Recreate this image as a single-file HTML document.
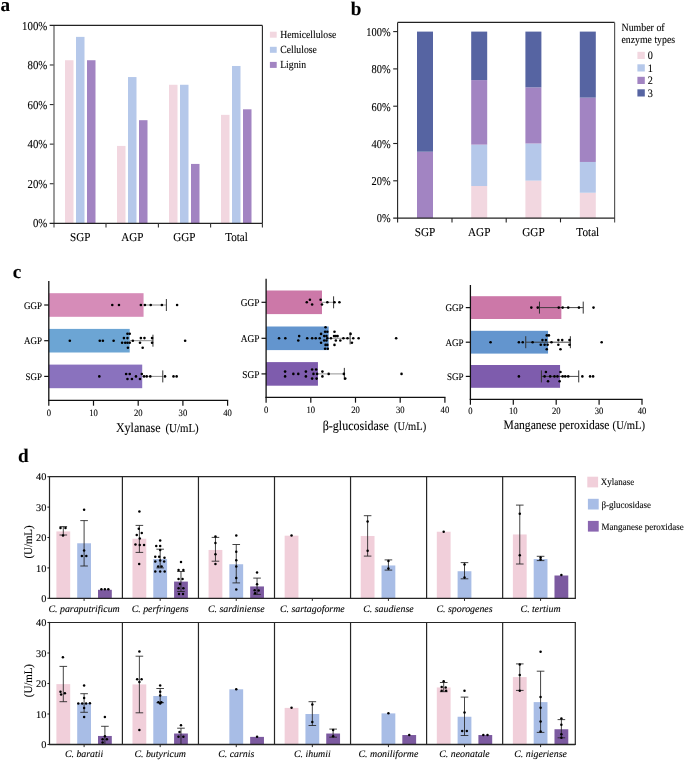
<!DOCTYPE html>
<html><head><meta charset="utf-8"><title>Figure</title>
<style>
html,body{margin:0;padding:0;background:#fff;}
body{width:685px;height:761px;overflow:hidden;}
svg{display:block;}
svg text{font-family:"Liberation Serif",serif;text-rendering:geometricPrecision;stroke:#000;stroke-width:0.18px;stroke-opacity:0.55;}
svg{will-change:transform;}
</style></head>
<body>
<svg width="685" height="761" viewBox="0 0 685 761">
<rect x="0" y="0" width="685" height="761" fill="#fff"/>
<text x="0.6" y="10.6" font-size="19.2" font-weight="bold" fill="#000">a</text>
<text x="350.7" y="14.8" font-size="19.2" font-weight="bold" fill="#000">b</text>
<text x="12.7" y="278.2" font-size="19.2" font-weight="bold" fill="#000">c</text>
<text x="18" y="461.7" font-size="19.2" font-weight="bold" fill="#000">d</text>
<rect x="65" y="60.23" width="8.5" height="163.07" fill="#F2D7E0"/>
<rect x="76" y="36.88" width="8.5" height="186.42" fill="#B5C8EA"/>
<rect x="87" y="60.23" width="8.5" height="163.07" fill="#A284C2"/>
<rect x="117" y="145.92" width="8.5" height="77.38" fill="#F2D7E0"/>
<rect x="128" y="77.05" width="8.5" height="146.25" fill="#B5C8EA"/>
<rect x="139" y="120.19" width="8.5" height="103.11" fill="#A284C2"/>
<rect x="169" y="84.77" width="8.5" height="138.53" fill="#F2D7E0"/>
<rect x="180" y="84.77" width="8.5" height="138.53" fill="#B5C8EA"/>
<rect x="191" y="163.93" width="8.5" height="59.37" fill="#A284C2"/>
<rect x="221" y="114.85" width="8.5" height="108.45" fill="#F2D7E0"/>
<rect x="232" y="65.97" width="8.5" height="157.33" fill="#B5C8EA"/>
<rect x="243" y="109.31" width="8.5" height="113.99" fill="#A284C2"/>
<line x1="54" y1="25.4" x2="54" y2="227.6" stroke="#7a7a7a" stroke-width="1.5"/>
<line x1="49.6" y1="25.4" x2="262.4" y2="25.4" stroke="#222" stroke-width="1.1"/>
<line x1="262.4" y1="25.4" x2="262.4" y2="223.3" stroke="#222" stroke-width="1.1"/>
<line x1="49.6" y1="223.3" x2="262.4" y2="223.3" stroke="#222" stroke-width="1.2"/>
<line x1="49.8" y1="183.72" x2="53.6" y2="183.72" stroke="#333" stroke-width="1.1"/>
<line x1="49.8" y1="144.14" x2="53.6" y2="144.14" stroke="#333" stroke-width="1.1"/>
<line x1="49.8" y1="104.56" x2="53.6" y2="104.56" stroke="#333" stroke-width="1.1"/>
<line x1="49.8" y1="64.98" x2="53.6" y2="64.98" stroke="#333" stroke-width="1.1"/>
<line x1="106" y1="223.3" x2="106" y2="227.6" stroke="#333" stroke-width="1.1"/>
<line x1="158.4" y1="223.3" x2="158.4" y2="227.6" stroke="#333" stroke-width="1.1"/>
<line x1="210.6" y1="223.3" x2="210.6" y2="227.6" stroke="#333" stroke-width="1.1"/>
<line x1="262.4" y1="223.3" x2="262.4" y2="227.6" stroke="#333" stroke-width="1.1"/>
<text transform="translate(47.3,227.4) scale(0.8929,1)" font-size="12.1" text-anchor="end" fill="#000">0%</text>
<text transform="translate(47.3,187.82) scale(0.8929,1)" font-size="12.1" text-anchor="end" fill="#000">20%</text>
<text transform="translate(47.3,148.24) scale(0.8929,1)" font-size="12.1" text-anchor="end" fill="#000">40%</text>
<text transform="translate(47.3,108.66) scale(0.8929,1)" font-size="12.1" text-anchor="end" fill="#000">60%</text>
<text transform="translate(47.3,69.08) scale(0.8929,1)" font-size="12.1" text-anchor="end" fill="#000">80%</text>
<text transform="translate(47.3,29.5) scale(0.8929,1)" font-size="12.1" text-anchor="end" fill="#000">100%</text>
<text transform="translate(80.3,240.6) scale(0.9174,1)" font-size="12.1" text-anchor="middle" fill="#000">SGP</text>
<text transform="translate(132.3,240.6) scale(0.9174,1)" font-size="12.1" text-anchor="middle" fill="#000">AGP</text>
<text transform="translate(184.4,240.6) scale(0.9174,1)" font-size="12.1" text-anchor="middle" fill="#000">GGP</text>
<text transform="translate(236.5,240.6) scale(0.9174,1)" font-size="12.1" text-anchor="middle" fill="#000">Total</text>
<rect x="269.9" y="31.7" width="6.8" height="6" fill="#F2D7E0"/>
<text transform="translate(280.2,37.8) scale(0.8929,1)" font-size="10.86" fill="#000">Hemicellulose</text>
<rect x="269.9" y="46.8" width="6.8" height="6" fill="#B5C8EA"/>
<text transform="translate(280.2,52.9) scale(0.8929,1)" font-size="10.86" fill="#000">Cellulose</text>
<rect x="269.9" y="61.9" width="6.8" height="6" fill="#A284C2"/>
<text transform="translate(280.2,68) scale(0.8929,1)" font-size="10.86" fill="#000">Lignin</text>
<rect x="417" y="151.71" width="16" height="66.39" fill="#A284C2"/>
<rect x="417" y="31.6" width="16" height="120.11" fill="#5664A2"/>
<rect x="471.2" y="186.02" width="16" height="32.08" fill="#F2D7E0"/>
<rect x="471.2" y="144.62" width="16" height="41.4" fill="#B5C8EA"/>
<rect x="471.2" y="80.09" width="16" height="64.53" fill="#A284C2"/>
<rect x="471.2" y="31.6" width="16" height="48.49" fill="#5664A2"/>
<rect x="525.4" y="180.61" width="16" height="37.49" fill="#F2D7E0"/>
<rect x="525.4" y="143.5" width="16" height="37.11" fill="#B5C8EA"/>
<rect x="525.4" y="87.36" width="16" height="56.14" fill="#A284C2"/>
<rect x="525.4" y="31.6" width="16" height="55.76" fill="#5664A2"/>
<rect x="579.8" y="192.74" width="16" height="25.36" fill="#F2D7E0"/>
<rect x="579.8" y="161.96" width="16" height="30.77" fill="#B5C8EA"/>
<rect x="579.8" y="97.62" width="16" height="64.34" fill="#A284C2"/>
<rect x="579.8" y="31.6" width="16" height="66.02" fill="#5664A2"/>
<line x1="397.6" y1="22.4" x2="397.6" y2="222.4" stroke="#222" stroke-width="1.1"/>
<line x1="397.6" y1="22.4" x2="614.6" y2="22.4" stroke="#222" stroke-width="1.1"/>
<line x1="614.6" y1="22.4" x2="614.6" y2="222.6" stroke="#5a5a5a" stroke-width="1.2"/>
<line x1="393.2" y1="218.1" x2="614.6" y2="218.1" stroke="#222" stroke-width="1.2"/>
<line x1="393.2" y1="180.8" x2="397.6" y2="180.8" stroke="#222" stroke-width="1.1"/>
<line x1="393.2" y1="143.5" x2="397.6" y2="143.5" stroke="#222" stroke-width="1.1"/>
<line x1="393.2" y1="106.2" x2="397.6" y2="106.2" stroke="#222" stroke-width="1.1"/>
<line x1="393.2" y1="68.9" x2="397.6" y2="68.9" stroke="#222" stroke-width="1.1"/>
<line x1="393.2" y1="31.6" x2="397.6" y2="31.6" stroke="#222" stroke-width="1.1"/>
<line x1="452" y1="218.1" x2="452" y2="222.4" stroke="#222" stroke-width="1.1"/>
<line x1="506.2" y1="218.1" x2="506.2" y2="222.4" stroke="#222" stroke-width="1.1"/>
<line x1="560.5" y1="218.1" x2="560.5" y2="222.4" stroke="#222" stroke-width="1.1"/>
<text transform="translate(390.6,222.4) scale(0.8696,1)" font-size="11.96" text-anchor="end" fill="#000">0%</text>
<text transform="translate(390.6,185.1) scale(0.8696,1)" font-size="11.96" text-anchor="end" fill="#000">20%</text>
<text transform="translate(390.6,147.8) scale(0.8696,1)" font-size="11.96" text-anchor="end" fill="#000">40%</text>
<text transform="translate(390.6,110.5) scale(0.8696,1)" font-size="11.96" text-anchor="end" fill="#000">60%</text>
<text transform="translate(390.6,73.2) scale(0.8696,1)" font-size="11.96" text-anchor="end" fill="#000">80%</text>
<text transform="translate(390.6,35.9) scale(0.8696,1)" font-size="11.96" text-anchor="end" fill="#000">100%</text>
<text transform="translate(425,236) scale(0.9259,1)" font-size="12.1" text-anchor="middle" fill="#000">SGP</text>
<text transform="translate(479.2,236) scale(0.9259,1)" font-size="12.1" text-anchor="middle" fill="#000">AGP</text>
<text transform="translate(533.4,236) scale(0.9259,1)" font-size="12.1" text-anchor="middle" fill="#000">GGP</text>
<text transform="translate(587.8,236) scale(0.9259,1)" font-size="12.1" text-anchor="middle" fill="#000">Total</text>
<text transform="translate(621.5,31.3) scale(0.8929,1)" font-size="11.09" fill="#000">Number of</text>
<text transform="translate(621.5,42.8) scale(0.8929,1)" font-size="10.98" fill="#000">enzyme types</text>
<rect x="637.4" y="51.8" width="7.4" height="7.2" fill="#F2D7E0"/>
<text transform="translate(647.8,59.1) scale(0.8929,1)" font-size="11.42" fill="#000">0</text>
<rect x="637.4" y="64.3" width="7.4" height="7.2" fill="#B5C8EA"/>
<text transform="translate(647.8,71.6) scale(0.8929,1)" font-size="11.42" fill="#000">1</text>
<rect x="637.4" y="76.8" width="7.4" height="7.2" fill="#A284C2"/>
<text transform="translate(647.8,84.1) scale(0.8929,1)" font-size="11.42" fill="#000">2</text>
<rect x="637.4" y="89.3" width="7.4" height="7.2" fill="#5664A2"/>
<text transform="translate(647.8,96.6) scale(0.8929,1)" font-size="11.42" fill="#000">3</text>
<rect x="48.8" y="293.2" width="94.76" height="23.6" fill="#D68CB8"/>
<rect x="48.8" y="328.9" width="80.91" height="23.6" fill="#6CA5D4"/>
<rect x="48.8" y="364.6" width="93.42" height="23.6" fill="#8A72BE"/>
<line x1="143.56" y1="305" x2="166.36" y2="305" stroke="#808080" stroke-width="0.9"/>
<line x1="166.36" y1="299" x2="166.36" y2="311" stroke="#333" stroke-width="1"/>
<line x1="129.71" y1="340.7" x2="152.95" y2="340.7" stroke="#808080" stroke-width="0.9"/>
<line x1="152.95" y1="334.7" x2="152.95" y2="346.7" stroke="#333" stroke-width="1"/>
<line x1="142.22" y1="376.4" x2="162.78" y2="376.4" stroke="#808080" stroke-width="0.9"/>
<line x1="162.78" y1="370.4" x2="162.78" y2="382.4" stroke="#333" stroke-width="1"/>
<circle cx="112.27" cy="305" r="1.3" fill="#000"/>
<circle cx="118.98" cy="305" r="1.3" fill="#000"/>
<circle cx="140.88" cy="305" r="1.3" fill="#000"/>
<circle cx="144.9" cy="305" r="1.3" fill="#000"/>
<circle cx="150.72" cy="305" r="1.3" fill="#000"/>
<circle cx="161.89" cy="305" r="1.3" fill="#000"/>
<circle cx="177.09" cy="305" r="1.3" fill="#000"/>
<circle cx="69.81" cy="340.7" r="1.3" fill="#000"/>
<circle cx="99.76" cy="340.7" r="1.3" fill="#000"/>
<circle cx="102.89" cy="340.7" r="1.3" fill="#000"/>
<circle cx="113.61" cy="340.7" r="1.3" fill="#000"/>
<circle cx="127.47" cy="333.7" r="1.3" fill="#000"/>
<circle cx="129.71" cy="333.7" r="1.3" fill="#000"/>
<circle cx="123.9" cy="338.1" r="1.3" fill="#000"/>
<circle cx="127.47" cy="338.1" r="1.3" fill="#000"/>
<circle cx="122.11" cy="342.8" r="1.3" fill="#000"/>
<circle cx="125.24" cy="342.8" r="1.3" fill="#000"/>
<circle cx="127.47" cy="342.8" r="1.3" fill="#000"/>
<circle cx="129.71" cy="342.8" r="1.3" fill="#000"/>
<circle cx="127.92" cy="347.7" r="1.3" fill="#000"/>
<circle cx="132.84" cy="340.7" r="1.3" fill="#000"/>
<circle cx="140.88" cy="338.1" r="1.3" fill="#000"/>
<circle cx="144.46" cy="338.1" r="1.3" fill="#000"/>
<circle cx="139.99" cy="342.8" r="1.3" fill="#000"/>
<circle cx="142.67" cy="347.7" r="1.3" fill="#000"/>
<circle cx="152.06" cy="338.1" r="1.3" fill="#000"/>
<circle cx="152.06" cy="342.8" r="1.3" fill="#000"/>
<circle cx="185.13" cy="340.7" r="1.3" fill="#000"/>
<circle cx="99.31" cy="376.4" r="1.3" fill="#000"/>
<circle cx="126.13" cy="374" r="1.3" fill="#000"/>
<circle cx="129.71" cy="374" r="1.3" fill="#000"/>
<circle cx="127.47" cy="379" r="1.3" fill="#000"/>
<circle cx="131.94" cy="379" r="1.3" fill="#000"/>
<circle cx="135.96" cy="376.4" r="1.3" fill="#000"/>
<circle cx="139.99" cy="379" r="1.3" fill="#000"/>
<circle cx="141.78" cy="374" r="1.3" fill="#000"/>
<circle cx="144.01" cy="376.4" r="1.3" fill="#000"/>
<circle cx="146.69" cy="376.4" r="1.3" fill="#000"/>
<circle cx="150.27" cy="376.4" r="1.3" fill="#000"/>
<circle cx="165.02" cy="376.4" r="1.3" fill="#000"/>
<circle cx="173.51" cy="376.4" r="1.3" fill="#000"/>
<circle cx="176.64" cy="376.4" r="1.3" fill="#000"/>
<line x1="48.8" y1="281.1" x2="48.8" y2="401" stroke="#111" stroke-width="1.3"/>
<line x1="48.2" y1="400.4" x2="228.2" y2="400.4" stroke="#111" stroke-width="1.3"/>
<line x1="48.8" y1="400.4" x2="48.8" y2="405.7" stroke="#111" stroke-width="1.2"/>
<text transform="translate(48.8,416) scale(0.8929,1)" font-size="9.63" text-anchor="middle" fill="#000">0</text>
<line x1="93.5" y1="400.4" x2="93.5" y2="405.7" stroke="#111" stroke-width="1.2"/>
<text transform="translate(93.5,416) scale(0.8929,1)" font-size="9.63" text-anchor="middle" fill="#000">10</text>
<line x1="138.2" y1="400.4" x2="138.2" y2="405.7" stroke="#111" stroke-width="1.2"/>
<text transform="translate(138.2,416) scale(0.8929,1)" font-size="9.63" text-anchor="middle" fill="#000">20</text>
<line x1="182.9" y1="400.4" x2="182.9" y2="405.7" stroke="#111" stroke-width="1.2"/>
<text transform="translate(182.9,416) scale(0.8929,1)" font-size="9.63" text-anchor="middle" fill="#000">30</text>
<line x1="227.6" y1="400.4" x2="227.6" y2="405.7" stroke="#111" stroke-width="1.2"/>
<text transform="translate(227.6,416) scale(0.8929,1)" font-size="9.63" text-anchor="middle" fill="#000">40</text>
<line x1="44.2" y1="305" x2="48.8" y2="305" stroke="#111" stroke-width="1.2"/>
<text transform="translate(42,308.7) scale(0.8929,1)" font-size="10.08" text-anchor="end" fill="#000">GGP</text>
<line x1="44.2" y1="340.7" x2="48.8" y2="340.7" stroke="#111" stroke-width="1.2"/>
<text transform="translate(42,344.4) scale(0.8929,1)" font-size="10.08" text-anchor="end" fill="#000">AGP</text>
<line x1="44.2" y1="376.4" x2="48.8" y2="376.4" stroke="#111" stroke-width="1.2"/>
<text transform="translate(42,380.1) scale(0.8929,1)" font-size="10.08" text-anchor="end" fill="#000">SGP</text>
<text transform="translate(115.9,431.5) scale(0.8929,1)" font-size="13.44" fill="#000">Xylanase</text>
<text transform="translate(165.5,431.5) scale(0.8929,1)" font-size="12.15" fill="#000">(U/mL)</text>
<rect x="266.1" y="290.5" width="55.88" height="23.6" fill="#CC78A8"/>
<rect x="266.1" y="326.5" width="62.58" height="23.6" fill="#6395CE"/>
<rect x="266.1" y="362.1" width="51.85" height="23.6" fill="#7E5CAD"/>
<line x1="321.98" y1="302.3" x2="333.6" y2="302.3" stroke="#888" stroke-width="0.9"/>
<line x1="333.6" y1="296.3" x2="333.6" y2="308.3" stroke="#333" stroke-width="1"/>
<line x1="328.68" y1="338.3" x2="350.14" y2="338.3" stroke="#888" stroke-width="0.9"/>
<line x1="350.14" y1="332.3" x2="350.14" y2="344.3" stroke="#333" stroke-width="1"/>
<line x1="317.95" y1="373.9" x2="344.33" y2="373.9" stroke="#888" stroke-width="0.9"/>
<line x1="344.33" y1="367.9" x2="344.33" y2="379.9" stroke="#333" stroke-width="1"/>
<circle cx="306.78" cy="302.3" r="1.3" fill="#000"/>
<circle cx="309.91" cy="299.8" r="1.3" fill="#000"/>
<circle cx="312.14" cy="304.5" r="1.3" fill="#000"/>
<circle cx="320.63" cy="299.8" r="1.3" fill="#000"/>
<circle cx="321.98" cy="304.5" r="1.3" fill="#000"/>
<circle cx="327.34" cy="302.3" r="1.3" fill="#000"/>
<circle cx="334.49" cy="302.3" r="1.3" fill="#000"/>
<circle cx="339.41" cy="302.3" r="1.3" fill="#000"/>
<circle cx="279.06" cy="338.3" r="1.3" fill="#000"/>
<circle cx="285.32" cy="338.3" r="1.3" fill="#000"/>
<circle cx="299.18" cy="336.1" r="1.3" fill="#000"/>
<circle cx="298.28" cy="340.5" r="1.3" fill="#000"/>
<circle cx="307.22" cy="338.3" r="1.3" fill="#000"/>
<circle cx="312.14" cy="338.3" r="1.3" fill="#000"/>
<circle cx="315.72" cy="338.3" r="1.3" fill="#000"/>
<circle cx="319.74" cy="338.3" r="1.3" fill="#000"/>
<circle cx="321.08" cy="333.9" r="1.3" fill="#000"/>
<circle cx="321.08" cy="342.7" r="1.3" fill="#000"/>
<circle cx="324.21" cy="336.1" r="1.3" fill="#000"/>
<circle cx="326.45" cy="336.1" r="1.3" fill="#000"/>
<circle cx="324.21" cy="340.5" r="1.3" fill="#000"/>
<circle cx="326.45" cy="340.5" r="1.3" fill="#000"/>
<circle cx="325.55" cy="327.3" r="1.3" fill="#000"/>
<circle cx="325.1" cy="331.7" r="1.3" fill="#000"/>
<circle cx="327.34" cy="331.7" r="1.3" fill="#000"/>
<circle cx="327.34" cy="338.3" r="1.3" fill="#000"/>
<circle cx="325.55" cy="344.9" r="1.3" fill="#000"/>
<circle cx="327.34" cy="344.9" r="1.3" fill="#000"/>
<circle cx="325.1" cy="348.8" r="1.3" fill="#000"/>
<circle cx="327.79" cy="348.8" r="1.3" fill="#000"/>
<circle cx="330.92" cy="338.3" r="1.3" fill="#000"/>
<circle cx="334.49" cy="331.7" r="1.3" fill="#000"/>
<circle cx="334.04" cy="336.1" r="1.3" fill="#000"/>
<circle cx="335.83" cy="336.1" r="1.3" fill="#000"/>
<circle cx="337.62" cy="336.1" r="1.3" fill="#000"/>
<circle cx="335.83" cy="340.5" r="1.3" fill="#000"/>
<circle cx="340.3" cy="340.5" r="1.3" fill="#000"/>
<circle cx="334.49" cy="344.9" r="1.3" fill="#000"/>
<circle cx="343.43" cy="338.3" r="1.3" fill="#000"/>
<circle cx="347.45" cy="338.3" r="1.3" fill="#000"/>
<circle cx="350.58" cy="333.9" r="1.3" fill="#000"/>
<circle cx="351.92" cy="342.7" r="1.3" fill="#000"/>
<circle cx="353.26" cy="338.3" r="1.3" fill="#000"/>
<circle cx="358.63" cy="338.3" r="1.3" fill="#000"/>
<circle cx="396.18" cy="338.3" r="1.3" fill="#000"/>
<circle cx="285.1" cy="371.6" r="1.3" fill="#000"/>
<circle cx="285.1" cy="376.4" r="1.3" fill="#000"/>
<circle cx="293.37" cy="373.9" r="1.3" fill="#000"/>
<circle cx="298.28" cy="373.9" r="1.3" fill="#000"/>
<circle cx="305.88" cy="371.6" r="1.3" fill="#000"/>
<circle cx="305.88" cy="376.4" r="1.3" fill="#000"/>
<circle cx="312.14" cy="369.5" r="1.3" fill="#000"/>
<circle cx="316.16" cy="369.5" r="1.3" fill="#000"/>
<circle cx="313.48" cy="373.9" r="1.3" fill="#000"/>
<circle cx="317.06" cy="373.9" r="1.3" fill="#000"/>
<circle cx="312.14" cy="378.6" r="1.3" fill="#000"/>
<circle cx="316.61" cy="378.6" r="1.3" fill="#000"/>
<circle cx="322.42" cy="371.6" r="1.3" fill="#000"/>
<circle cx="322.42" cy="376.4" r="1.3" fill="#000"/>
<circle cx="328.68" cy="373.9" r="1.3" fill="#000"/>
<circle cx="343.88" cy="373.9" r="1.3" fill="#000"/>
<circle cx="345.22" cy="378.6" r="1.3" fill="#000"/>
<circle cx="401.54" cy="373.9" r="1.3" fill="#000"/>
<line x1="266.1" y1="278.8" x2="266.1" y2="398" stroke="#111" stroke-width="1.3"/>
<line x1="265.5" y1="397.4" x2="445.5" y2="397.4" stroke="#111" stroke-width="1.3"/>
<line x1="266.1" y1="397.4" x2="266.1" y2="402.7" stroke="#111" stroke-width="1.2"/>
<text transform="translate(266.1,413) scale(0.8929,1)" font-size="9.63" text-anchor="middle" fill="#000">0</text>
<line x1="310.8" y1="397.4" x2="310.8" y2="402.7" stroke="#111" stroke-width="1.2"/>
<text transform="translate(310.8,413) scale(0.8929,1)" font-size="9.63" text-anchor="middle" fill="#000">10</text>
<line x1="355.5" y1="397.4" x2="355.5" y2="402.7" stroke="#111" stroke-width="1.2"/>
<text transform="translate(355.5,413) scale(0.8929,1)" font-size="9.63" text-anchor="middle" fill="#000">20</text>
<line x1="400.2" y1="397.4" x2="400.2" y2="402.7" stroke="#111" stroke-width="1.2"/>
<text transform="translate(400.2,413) scale(0.8929,1)" font-size="9.63" text-anchor="middle" fill="#000">30</text>
<line x1="444.9" y1="397.4" x2="444.9" y2="402.7" stroke="#111" stroke-width="1.2"/>
<text transform="translate(444.9,413) scale(0.8929,1)" font-size="9.63" text-anchor="middle" fill="#000">40</text>
<line x1="261.5" y1="302.3" x2="266.1" y2="302.3" stroke="#111" stroke-width="1.2"/>
<text transform="translate(259.4,306) scale(0.8929,1)" font-size="10.47" text-anchor="end" fill="#000">GGP</text>
<line x1="261.5" y1="338.3" x2="266.1" y2="338.3" stroke="#111" stroke-width="1.2"/>
<text transform="translate(259.4,342) scale(0.8929,1)" font-size="10.47" text-anchor="end" fill="#000">AGP</text>
<line x1="261.5" y1="373.9" x2="266.1" y2="373.9" stroke="#111" stroke-width="1.2"/>
<text transform="translate(259.4,377.6) scale(0.8929,1)" font-size="10.47" text-anchor="end" fill="#000">SGP</text>
<text transform="translate(322.7,430.2) scale(0.8929,1)" font-size="13.44" fill="#000">β-glucosidase</text>
<text transform="translate(394.1,430.2) scale(0.8929,1)" font-size="11.76" fill="#000">(U/mL)</text>
<rect x="470.4" y="296.2" width="90.95" height="22.8" fill="#CC78A8"/>
<rect x="470.4" y="330.8" width="77.65" height="22.8" fill="#6395CE"/>
<rect x="470.4" y="365" width="89.66" height="22.8" fill="#7E5CAD"/>
<line x1="539.47" y1="307.6" x2="583.23" y2="307.6" stroke="#333" stroke-width="0.9"/>
<line x1="583.23" y1="301.6" x2="583.23" y2="313.6" stroke="#333" stroke-width="1"/>
<line x1="539.47" y1="301.6" x2="539.47" y2="313.6" stroke="#333" stroke-width="1"/>
<line x1="525.74" y1="342.2" x2="570.36" y2="342.2" stroke="#333" stroke-width="0.9"/>
<line x1="570.36" y1="336.2" x2="570.36" y2="348.2" stroke="#333" stroke-width="1"/>
<line x1="525.74" y1="336.2" x2="525.74" y2="348.2" stroke="#333" stroke-width="1"/>
<line x1="541.4" y1="376.4" x2="578.72" y2="376.4" stroke="#333" stroke-width="0.9"/>
<line x1="578.72" y1="370.4" x2="578.72" y2="382.4" stroke="#333" stroke-width="1"/>
<line x1="541.4" y1="370.4" x2="541.4" y2="382.4" stroke="#333" stroke-width="1"/>
<circle cx="531.32" cy="307.6" r="1.3" fill="#000"/>
<circle cx="537.75" cy="307.6" r="1.3" fill="#000"/>
<circle cx="558.77" cy="307.6" r="1.3" fill="#000"/>
<circle cx="562.63" cy="307.6" r="1.3" fill="#000"/>
<circle cx="568.21" cy="307.6" r="1.3" fill="#000"/>
<circle cx="578.94" cy="307.6" r="1.3" fill="#000"/>
<circle cx="593.52" cy="307.6" r="1.3" fill="#000"/>
<circle cx="490.56" cy="342.2" r="1.3" fill="#000"/>
<circle cx="518.88" cy="342.2" r="1.3" fill="#000"/>
<circle cx="522.74" cy="342.2" r="1.3" fill="#000"/>
<circle cx="532.61" cy="342.2" r="1.3" fill="#000"/>
<circle cx="542.47" cy="340.1" r="1.3" fill="#000"/>
<circle cx="545.9" cy="340.1" r="1.3" fill="#000"/>
<circle cx="546.76" cy="335.4" r="1.3" fill="#000"/>
<circle cx="548.91" cy="335.4" r="1.3" fill="#000"/>
<circle cx="540.76" cy="344.8" r="1.3" fill="#000"/>
<circle cx="544.62" cy="344.8" r="1.3" fill="#000"/>
<circle cx="547.62" cy="344.8" r="1.3" fill="#000"/>
<circle cx="546.76" cy="349.2" r="1.3" fill="#000"/>
<circle cx="551.48" cy="342.2" r="1.3" fill="#000"/>
<circle cx="558.35" cy="340.1" r="1.3" fill="#000"/>
<circle cx="562.21" cy="340.1" r="1.3" fill="#000"/>
<circle cx="558.35" cy="344.8" r="1.3" fill="#000"/>
<circle cx="560.49" cy="349.2" r="1.3" fill="#000"/>
<circle cx="569.5" cy="340.1" r="1.3" fill="#000"/>
<circle cx="569.5" cy="344.8" r="1.3" fill="#000"/>
<circle cx="601.67" cy="342.2" r="1.3" fill="#000"/>
<circle cx="518.88" cy="376.4" r="1.3" fill="#000"/>
<circle cx="545.9" cy="372" r="1.3" fill="#000"/>
<circle cx="544.62" cy="376.4" r="1.3" fill="#000"/>
<circle cx="550.19" cy="376.4" r="1.3" fill="#000"/>
<circle cx="554.48" cy="376.4" r="1.3" fill="#000"/>
<circle cx="557.49" cy="376.4" r="1.3" fill="#000"/>
<circle cx="560.49" cy="372" r="1.3" fill="#000"/>
<circle cx="562.63" cy="376.4" r="1.3" fill="#000"/>
<circle cx="548.05" cy="381.2" r="1.3" fill="#000"/>
<circle cx="559.63" cy="381.2" r="1.3" fill="#000"/>
<circle cx="565.21" cy="376.4" r="1.3" fill="#000"/>
<circle cx="568.21" cy="376.4" r="1.3" fill="#000"/>
<circle cx="582.37" cy="376.4" r="1.3" fill="#000"/>
<circle cx="590.09" cy="376.4" r="1.3" fill="#000"/>
<circle cx="593.09" cy="376.4" r="1.3" fill="#000"/>
<line x1="470.4" y1="285" x2="470.4" y2="400" stroke="#111" stroke-width="1.3"/>
<line x1="469.8" y1="399.4" x2="642.6" y2="399.4" stroke="#111" stroke-width="1.3"/>
<line x1="470.4" y1="399.4" x2="470.4" y2="404.7" stroke="#111" stroke-width="1.2"/>
<text transform="translate(470.4,414.4) scale(0.8929,1)" font-size="9.63" text-anchor="middle" fill="#000">0</text>
<line x1="513.3" y1="399.4" x2="513.3" y2="404.7" stroke="#111" stroke-width="1.2"/>
<text transform="translate(513.3,414.4) scale(0.8929,1)" font-size="9.63" text-anchor="middle" fill="#000">10</text>
<line x1="556.2" y1="399.4" x2="556.2" y2="404.7" stroke="#111" stroke-width="1.2"/>
<text transform="translate(556.2,414.4) scale(0.8929,1)" font-size="9.63" text-anchor="middle" fill="#000">20</text>
<line x1="599.1" y1="399.4" x2="599.1" y2="404.7" stroke="#111" stroke-width="1.2"/>
<text transform="translate(599.1,414.4) scale(0.8929,1)" font-size="9.63" text-anchor="middle" fill="#000">30</text>
<line x1="642" y1="399.4" x2="642" y2="404.7" stroke="#111" stroke-width="1.2"/>
<text transform="translate(642,414.4) scale(0.8929,1)" font-size="9.63" text-anchor="middle" fill="#000">40</text>
<line x1="465.8" y1="307.6" x2="470.4" y2="307.6" stroke="#111" stroke-width="1.2"/>
<text transform="translate(463.6,311.3) scale(0.8929,1)" font-size="10.14" text-anchor="end" fill="#000">GGP</text>
<line x1="465.8" y1="342.2" x2="470.4" y2="342.2" stroke="#111" stroke-width="1.2"/>
<text transform="translate(463.6,345.9) scale(0.8929,1)" font-size="10.14" text-anchor="end" fill="#000">AGP</text>
<line x1="465.8" y1="376.4" x2="470.4" y2="376.4" stroke="#111" stroke-width="1.2"/>
<text transform="translate(463.6,380.1) scale(0.8929,1)" font-size="10.14" text-anchor="end" fill="#000">SGP</text>
<text transform="translate(503.6,428.6) scale(0.8929,1)" font-size="12.99" fill="#000">Manganese peroxidase</text>
<text transform="translate(612.6,428.6) scale(0.8929,1)" font-size="11.87" fill="#000">(U/mL)</text>
<rect x="56.4" y="531.42" width="13.8" height="66.88" fill="#F1CFDA"/>
<line x1="63.3" y1="526.6" x2="63.3" y2="535" stroke="#222" stroke-width="0.85"/>
<line x1="59.5" y1="526.6" x2="67.1" y2="526.6" stroke="#222" stroke-width="0.85"/>
<line x1="59.5" y1="535" x2="67.1" y2="535" stroke="#222" stroke-width="0.85"/>
<circle cx="60.5" cy="528.1" r="1.25" fill="#000"/>
<circle cx="65.5" cy="528.1" r="1.25" fill="#000"/>
<circle cx="63" cy="535.6" r="1.25" fill="#000"/>
<rect x="77.2" y="543.28" width="13.8" height="55.02" fill="#A8BDE6"/>
<line x1="84.1" y1="520.6" x2="84.1" y2="566" stroke="#222" stroke-width="0.85"/>
<line x1="80.3" y1="520.6" x2="87.9" y2="520.6" stroke="#222" stroke-width="0.85"/>
<line x1="80.3" y1="566" x2="87.9" y2="566" stroke="#222" stroke-width="0.85"/>
<circle cx="84.1" cy="509.8" r="1.25" fill="#000"/>
<circle cx="84.1" cy="550.4" r="1.25" fill="#000"/>
<circle cx="81.9" cy="556.1" r="1.25" fill="#000"/>
<circle cx="86.3" cy="556.1" r="1.25" fill="#000"/>
<rect x="98" y="589.79" width="13.8" height="8.51" fill="#7C5AA0"/>
<circle cx="101.4" cy="589.2" r="1.25" fill="#000"/>
<circle cx="104.9" cy="589.2" r="1.25" fill="#000"/>
<circle cx="108.3" cy="589.2" r="1.25" fill="#000"/>
<text x="84.1" y="612.1" font-size="9.9" text-anchor="middle" font-style="italic" fill="#000">C. paraputrificum</text>
<line x1="84.1" y1="598.3" x2="84.1" y2="600.9" stroke="#262626" stroke-width="1"/>
<rect x="132.48" y="538.72" width="13.8" height="59.58" fill="#F1CFDA"/>
<line x1="139.38" y1="525.4" x2="139.38" y2="552.4" stroke="#222" stroke-width="0.85"/>
<line x1="135.58" y1="525.4" x2="143.18" y2="525.4" stroke="#222" stroke-width="0.85"/>
<line x1="135.58" y1="552.4" x2="143.18" y2="552.4" stroke="#222" stroke-width="0.85"/>
<circle cx="139.38" cy="511.4" r="1.25" fill="#000"/>
<circle cx="138.78" cy="528.7" r="1.25" fill="#000"/>
<circle cx="141.78" cy="533.1" r="1.25" fill="#000"/>
<circle cx="136.78" cy="535" r="1.25" fill="#000"/>
<circle cx="139.78" cy="538.6" r="1.25" fill="#000"/>
<circle cx="135.48" cy="544.5" r="1.25" fill="#000"/>
<circle cx="139.78" cy="544.9" r="1.25" fill="#000"/>
<circle cx="144.08" cy="544.9" r="1.25" fill="#000"/>
<circle cx="139.18" cy="564" r="1.25" fill="#000"/>
<rect x="153.28" y="559.08" width="13.8" height="39.22" fill="#A8BDE6"/>
<line x1="160.18" y1="549.2" x2="160.18" y2="567.9" stroke="#222" stroke-width="0.85"/>
<line x1="156.38" y1="549.2" x2="163.98" y2="549.2" stroke="#222" stroke-width="0.85"/>
<line x1="156.38" y1="567.9" x2="163.98" y2="567.9" stroke="#222" stroke-width="0.85"/>
<circle cx="160.18" cy="540.4" r="1.25" fill="#000"/>
<circle cx="156.28" cy="545.9" r="1.25" fill="#000"/>
<circle cx="160.18" cy="545.9" r="1.25" fill="#000"/>
<circle cx="160.18" cy="549.9" r="1.25" fill="#000"/>
<circle cx="155.28" cy="556.7" r="1.25" fill="#000"/>
<circle cx="159.18" cy="556.7" r="1.25" fill="#000"/>
<circle cx="164.48" cy="557.7" r="1.25" fill="#000"/>
<circle cx="160.18" cy="560.6" r="1.25" fill="#000"/>
<circle cx="155.28" cy="561.6" r="1.25" fill="#000"/>
<circle cx="164.18" cy="561.6" r="1.25" fill="#000"/>
<circle cx="158.18" cy="566.5" r="1.25" fill="#000"/>
<circle cx="161.58" cy="566.5" r="1.25" fill="#000"/>
<circle cx="155.28" cy="571.5" r="1.25" fill="#000"/>
<circle cx="160.18" cy="571.5" r="1.25" fill="#000"/>
<circle cx="164.68" cy="571.5" r="1.25" fill="#000"/>
<rect x="174.08" y="581.58" width="13.8" height="16.72" fill="#7C5AA0"/>
<line x1="180.98" y1="571.5" x2="180.98" y2="591.5" stroke="#222" stroke-width="0.85"/>
<line x1="177.18" y1="571.5" x2="184.78" y2="571.5" stroke="#222" stroke-width="0.85"/>
<line x1="177.18" y1="591.5" x2="184.78" y2="591.5" stroke="#222" stroke-width="0.85"/>
<circle cx="180.98" cy="562.1" r="1.25" fill="#000"/>
<circle cx="178.58" cy="570.1" r="1.25" fill="#000"/>
<circle cx="183.38" cy="570.1" r="1.25" fill="#000"/>
<circle cx="178.58" cy="579" r="1.25" fill="#000"/>
<circle cx="182.58" cy="579" r="1.25" fill="#000"/>
<circle cx="179.98" cy="583.9" r="1.25" fill="#000"/>
<circle cx="178.58" cy="588.3" r="1.25" fill="#000"/>
<circle cx="183.38" cy="588.3" r="1.25" fill="#000"/>
<circle cx="178.98" cy="594.1" r="1.25" fill="#000"/>
<circle cx="182.98" cy="594.1" r="1.25" fill="#000"/>
<text x="160.18" y="612.1" font-size="9.9" text-anchor="middle" font-style="italic" fill="#000">C. perfringens</text>
<line x1="160.18" y1="598.3" x2="160.18" y2="600.9" stroke="#262626" stroke-width="1"/>
<rect x="208.56" y="549.96" width="13.8" height="48.34" fill="#F1CFDA"/>
<line x1="215.46" y1="537.4" x2="215.46" y2="561.2" stroke="#222" stroke-width="0.85"/>
<line x1="211.66" y1="537.4" x2="219.26" y2="537.4" stroke="#222" stroke-width="0.85"/>
<line x1="211.66" y1="561.2" x2="219.26" y2="561.2" stroke="#222" stroke-width="0.85"/>
<circle cx="215.46" cy="536.6" r="1.25" fill="#000"/>
<circle cx="215.46" cy="542.9" r="1.25" fill="#000"/>
<circle cx="215.46" cy="554.3" r="1.25" fill="#000"/>
<circle cx="215.46" cy="564" r="1.25" fill="#000"/>
<rect x="229.36" y="564.25" width="13.8" height="34.05" fill="#A8BDE6"/>
<line x1="236.26" y1="544.5" x2="236.26" y2="582.9" stroke="#222" stroke-width="0.85"/>
<line x1="232.46" y1="544.5" x2="240.06" y2="544.5" stroke="#222" stroke-width="0.85"/>
<line x1="232.46" y1="582.9" x2="240.06" y2="582.9" stroke="#222" stroke-width="0.85"/>
<circle cx="236.26" cy="535.4" r="1.25" fill="#000"/>
<circle cx="236.26" cy="551.8" r="1.25" fill="#000"/>
<circle cx="236.26" cy="560.2" r="1.25" fill="#000"/>
<circle cx="236.26" cy="566.6" r="1.25" fill="#000"/>
<circle cx="236.26" cy="578" r="1.25" fill="#000"/>
<circle cx="236.26" cy="589.6" r="1.25" fill="#000"/>
<rect x="250.16" y="586.44" width="13.8" height="11.86" fill="#7C5AA0"/>
<line x1="257.06" y1="578.1" x2="257.06" y2="594.4" stroke="#222" stroke-width="0.85"/>
<line x1="253.26" y1="578.1" x2="260.86" y2="578.1" stroke="#222" stroke-width="0.85"/>
<line x1="253.26" y1="594.4" x2="260.86" y2="594.4" stroke="#222" stroke-width="0.85"/>
<circle cx="257.06" cy="572.5" r="1.25" fill="#000"/>
<circle cx="257.06" cy="584.3" r="1.25" fill="#000"/>
<circle cx="254.66" cy="590.2" r="1.25" fill="#000"/>
<circle cx="258.66" cy="590.6" r="1.25" fill="#000"/>
<circle cx="255.06" cy="593.2" r="1.25" fill="#000"/>
<text x="236.26" y="612.1" font-size="9.9" text-anchor="middle" font-style="italic" fill="#000">C. sardiniense</text>
<line x1="236.26" y1="598.3" x2="236.26" y2="600.9" stroke="#262626" stroke-width="1"/>
<rect x="284.64" y="535.68" width="13.8" height="62.62" fill="#F1CFDA"/>
<circle cx="291.54" cy="535.6" r="1.25" fill="#000"/>
<text x="312.34" y="612.1" font-size="9.9" text-anchor="middle" font-style="italic" fill="#000">C. sartagoforme</text>
<line x1="312.34" y1="598.3" x2="312.34" y2="600.9" stroke="#262626" stroke-width="1"/>
<rect x="360.72" y="535.98" width="13.8" height="62.32" fill="#F1CFDA"/>
<line x1="367.62" y1="515.7" x2="367.62" y2="556.1" stroke="#222" stroke-width="0.85"/>
<line x1="363.82" y1="515.7" x2="371.42" y2="515.7" stroke="#222" stroke-width="0.85"/>
<line x1="363.82" y1="556.1" x2="371.42" y2="556.1" stroke="#222" stroke-width="0.85"/>
<circle cx="367.62" cy="521.6" r="1.25" fill="#000"/>
<circle cx="367.62" cy="550.8" r="1.25" fill="#000"/>
<rect x="381.52" y="565.47" width="13.8" height="32.83" fill="#A8BDE6"/>
<line x1="388.42" y1="559.9" x2="388.42" y2="570.1" stroke="#222" stroke-width="0.85"/>
<line x1="384.62" y1="559.9" x2="392.22" y2="559.9" stroke="#222" stroke-width="0.85"/>
<line x1="384.62" y1="570.1" x2="392.22" y2="570.1" stroke="#222" stroke-width="0.85"/>
<circle cx="388.42" cy="561" r="1.25" fill="#000"/>
<circle cx="388.42" cy="568.5" r="1.25" fill="#000"/>
<text x="388.42" y="612.1" font-size="9.9" text-anchor="middle" font-style="italic" fill="#000">C. saudiense</text>
<line x1="388.42" y1="598.3" x2="388.42" y2="600.9" stroke="#262626" stroke-width="1"/>
<rect x="436.8" y="531.72" width="13.8" height="66.58" fill="#F1CFDA"/>
<circle cx="443.7" cy="531.7" r="1.25" fill="#000"/>
<rect x="457.6" y="571.24" width="13.8" height="27.06" fill="#A8BDE6"/>
<line x1="464.5" y1="562.6" x2="464.5" y2="578.8" stroke="#222" stroke-width="0.85"/>
<line x1="460.7" y1="562.6" x2="468.3" y2="562.6" stroke="#222" stroke-width="0.85"/>
<line x1="460.7" y1="578.8" x2="468.3" y2="578.8" stroke="#222" stroke-width="0.85"/>
<circle cx="464.5" cy="564.6" r="1.25" fill="#000"/>
<circle cx="464.5" cy="577.4" r="1.25" fill="#000"/>
<text x="464.5" y="612.1" font-size="9.9" text-anchor="middle" font-style="italic" fill="#000">C. sporogenes</text>
<line x1="464.5" y1="598.3" x2="464.5" y2="600.9" stroke="#262626" stroke-width="1"/>
<rect x="512.88" y="534.46" width="13.8" height="63.84" fill="#F1CFDA"/>
<line x1="519.78" y1="505.1" x2="519.78" y2="564" stroke="#222" stroke-width="0.85"/>
<line x1="515.98" y1="505.1" x2="523.58" y2="505.1" stroke="#222" stroke-width="0.85"/>
<line x1="515.98" y1="564" x2="523.58" y2="564" stroke="#222" stroke-width="0.85"/>
<circle cx="519.78" cy="513.7" r="1.25" fill="#000"/>
<circle cx="519.78" cy="555.3" r="1.25" fill="#000"/>
<rect x="533.68" y="559.08" width="13.8" height="39.22" fill="#A8BDE6"/>
<line x1="540.58" y1="556.3" x2="540.58" y2="560.6" stroke="#222" stroke-width="0.85"/>
<line x1="536.78" y1="556.3" x2="544.38" y2="556.3" stroke="#222" stroke-width="0.85"/>
<line x1="536.78" y1="560.6" x2="544.38" y2="560.6" stroke="#222" stroke-width="0.85"/>
<circle cx="540.58" cy="557.6" r="1.25" fill="#000"/>
<circle cx="540.58" cy="559.6" r="1.25" fill="#000"/>
<rect x="554.48" y="575.5" width="13.8" height="22.8" fill="#7C5AA0"/>
<circle cx="561.38" cy="575" r="1.25" fill="#000"/>
<text x="540.58" y="612.1" font-size="9.9" text-anchor="middle" font-style="italic" fill="#000">C. tertium</text>
<line x1="540.58" y1="598.3" x2="540.58" y2="600.9" stroke="#262626" stroke-width="1"/>
<line x1="49.5" y1="476.7" x2="575.3" y2="476.7" stroke="#262626" stroke-width="1.2"/>
<line x1="49.5" y1="476.1" x2="49.5" y2="598.9" stroke="#262626" stroke-width="1.2"/>
<line x1="575.3" y1="476.1" x2="575.3" y2="598.9" stroke="#262626" stroke-width="1.2"/>
<line x1="49.5" y1="598.3" x2="575.3" y2="598.3" stroke="#262626" stroke-width="1.3"/>
<line x1="122.4" y1="476.7" x2="122.4" y2="598.3" stroke="#262626" stroke-width="1.2"/>
<line x1="198.45" y1="476.7" x2="198.45" y2="598.3" stroke="#262626" stroke-width="1.2"/>
<line x1="274.5" y1="476.7" x2="274.5" y2="598.3" stroke="#262626" stroke-width="1.2"/>
<line x1="350.55" y1="476.7" x2="350.55" y2="598.3" stroke="#262626" stroke-width="1.2"/>
<line x1="426.6" y1="476.7" x2="426.6" y2="598.3" stroke="#262626" stroke-width="1.2"/>
<line x1="502.65" y1="476.7" x2="502.65" y2="598.3" stroke="#262626" stroke-width="1.2"/>
<line x1="47.4" y1="598.3" x2="49.5" y2="598.3" stroke="#262626" stroke-width="1.1"/>
<text x="46.4" y="601.9" font-size="10.3" text-anchor="end" fill="#000">0</text>
<line x1="47.4" y1="567.9" x2="49.5" y2="567.9" stroke="#262626" stroke-width="1.1"/>
<text x="46.4" y="571.5" font-size="10.3" text-anchor="end" fill="#000">10</text>
<line x1="47.4" y1="537.5" x2="49.5" y2="537.5" stroke="#262626" stroke-width="1.1"/>
<text x="46.4" y="541.1" font-size="10.3" text-anchor="end" fill="#000">20</text>
<line x1="47.4" y1="507.1" x2="49.5" y2="507.1" stroke="#262626" stroke-width="1.1"/>
<text x="46.4" y="510.7" font-size="10.3" text-anchor="end" fill="#000">30</text>
<line x1="47.4" y1="476.7" x2="49.5" y2="476.7" stroke="#262626" stroke-width="1.1"/>
<text x="46.4" y="480.3" font-size="10.3" text-anchor="end" fill="#000">40</text>
<text transform="translate(31.9,542) rotate(-90) scale(0.9434,1)" font-size="11.5" text-anchor="middle" fill="#000">(U/mL)</text>
<rect x="56.4" y="684.11" width="13.8" height="60.39" fill="#F1CFDA"/>
<line x1="63.3" y1="666.4" x2="63.3" y2="701.7" stroke="#222" stroke-width="0.85"/>
<line x1="59.5" y1="666.4" x2="67.1" y2="666.4" stroke="#222" stroke-width="0.85"/>
<line x1="59.5" y1="701.7" x2="67.1" y2="701.7" stroke="#222" stroke-width="0.85"/>
<circle cx="62.9" cy="657.2" r="1.25" fill="#000"/>
<circle cx="60.5" cy="691.7" r="1.25" fill="#000"/>
<circle cx="64.9" cy="693.3" r="1.25" fill="#000"/>
<circle cx="61.1" cy="694.6" r="1.25" fill="#000"/>
<rect x="77.2" y="703.02" width="13.8" height="41.48" fill="#A8BDE6"/>
<line x1="84.1" y1="693.7" x2="84.1" y2="712.3" stroke="#222" stroke-width="0.85"/>
<line x1="80.3" y1="693.7" x2="87.9" y2="693.7" stroke="#222" stroke-width="0.85"/>
<line x1="80.3" y1="712.3" x2="87.9" y2="712.3" stroke="#222" stroke-width="0.85"/>
<circle cx="84.1" cy="685.4" r="1.25" fill="#000"/>
<circle cx="84.1" cy="697.9" r="1.25" fill="#000"/>
<circle cx="78.3" cy="703.6" r="1.25" fill="#000"/>
<circle cx="82.2" cy="703.6" r="1.25" fill="#000"/>
<circle cx="86.1" cy="703.6" r="1.25" fill="#000"/>
<circle cx="89.9" cy="703.2" r="1.25" fill="#000"/>
<circle cx="84.1" cy="708" r="1.25" fill="#000"/>
<circle cx="84.1" cy="717.1" r="1.25" fill="#000"/>
<rect x="98" y="735.96" width="13.8" height="8.54" fill="#7C5AA0"/>
<line x1="104.9" y1="726.3" x2="104.9" y2="744.5" stroke="#222" stroke-width="0.85"/>
<line x1="101.1" y1="726.3" x2="108.7" y2="726.3" stroke="#222" stroke-width="0.85"/>
<circle cx="104.9" cy="717.1" r="1.25" fill="#000"/>
<circle cx="104.9" cy="736.2" r="1.25" fill="#000"/>
<circle cx="102.6" cy="739.3" r="1.25" fill="#000"/>
<circle cx="106.9" cy="739.3" r="1.25" fill="#000"/>
<circle cx="102.6" cy="742.6" r="1.25" fill="#000"/>
<text x="84.1" y="757.3" font-size="9.9" text-anchor="middle" font-style="italic" fill="#000">C. baratii</text>
<line x1="84.1" y1="744.5" x2="84.1" y2="747.1" stroke="#262626" stroke-width="1"/>
<rect x="132.48" y="684.41" width="13.8" height="60.09" fill="#F1CFDA"/>
<line x1="139.38" y1="656.2" x2="139.38" y2="712.8" stroke="#222" stroke-width="0.85"/>
<line x1="135.58" y1="656.2" x2="143.18" y2="656.2" stroke="#222" stroke-width="0.85"/>
<line x1="135.58" y1="712.8" x2="143.18" y2="712.8" stroke="#222" stroke-width="0.85"/>
<circle cx="139.38" cy="651.5" r="1.25" fill="#000"/>
<circle cx="137.18" cy="679.3" r="1.25" fill="#000"/>
<circle cx="141.58" cy="679.3" r="1.25" fill="#000"/>
<circle cx="139.38" cy="682.1" r="1.25" fill="#000"/>
<circle cx="139.38" cy="730.1" r="1.25" fill="#000"/>
<rect x="153.28" y="696" width="13.8" height="48.5" fill="#A8BDE6"/>
<line x1="160.18" y1="688.5" x2="160.18" y2="702.7" stroke="#222" stroke-width="0.85"/>
<line x1="156.38" y1="688.5" x2="163.98" y2="688.5" stroke="#222" stroke-width="0.85"/>
<line x1="156.38" y1="702.7" x2="163.98" y2="702.7" stroke="#222" stroke-width="0.85"/>
<circle cx="160.18" cy="685.6" r="1.25" fill="#000"/>
<circle cx="160.18" cy="691.7" r="1.25" fill="#000"/>
<circle cx="160.18" cy="695.6" r="1.25" fill="#000"/>
<circle cx="158.38" cy="702.3" r="1.25" fill="#000"/>
<circle cx="161.38" cy="702.3" r="1.25" fill="#000"/>
<circle cx="160.18" cy="703.6" r="1.25" fill="#000"/>
<rect x="174.08" y="733.52" width="13.8" height="10.98" fill="#7C5AA0"/>
<line x1="180.98" y1="728.2" x2="180.98" y2="744.5" stroke="#222" stroke-width="0.85"/>
<line x1="177.18" y1="728.2" x2="184.78" y2="728.2" stroke="#222" stroke-width="0.85"/>
<circle cx="180.98" cy="725.3" r="1.25" fill="#000"/>
<circle cx="179.48" cy="732" r="1.25" fill="#000"/>
<circle cx="178.48" cy="736.8" r="1.25" fill="#000"/>
<circle cx="183.38" cy="736.8" r="1.25" fill="#000"/>
<text x="160.18" y="757.3" font-size="9.9" text-anchor="middle" font-style="italic" fill="#000">C. butyricum</text>
<line x1="160.18" y1="744.5" x2="160.18" y2="747.1" stroke="#262626" stroke-width="1"/>
<rect x="229.36" y="689.29" width="13.8" height="55.21" fill="#A8BDE6"/>
<circle cx="236.26" cy="689.2" r="1.25" fill="#000"/>
<rect x="250.16" y="736.88" width="13.8" height="7.62" fill="#7C5AA0"/>
<circle cx="257.06" cy="736.8" r="1.25" fill="#000"/>
<text x="236.26" y="757.3" font-size="9.9" text-anchor="middle" font-style="italic" fill="#000">C. carnis</text>
<line x1="236.26" y1="744.5" x2="236.26" y2="747.1" stroke="#262626" stroke-width="1"/>
<rect x="284.64" y="707.9" width="13.8" height="36.6" fill="#F1CFDA"/>
<circle cx="291.54" cy="707.7" r="1.25" fill="#000"/>
<rect x="305.44" y="714" width="13.8" height="30.5" fill="#A8BDE6"/>
<line x1="312.34" y1="701.7" x2="312.34" y2="725.5" stroke="#222" stroke-width="0.85"/>
<line x1="308.54" y1="701.7" x2="316.14" y2="701.7" stroke="#222" stroke-width="0.85"/>
<line x1="308.54" y1="725.5" x2="316.14" y2="725.5" stroke="#222" stroke-width="0.85"/>
<circle cx="312.34" cy="704.6" r="1.25" fill="#000"/>
<circle cx="312.34" cy="722" r="1.25" fill="#000"/>
<rect x="326.24" y="733.52" width="13.8" height="10.98" fill="#7C5AA0"/>
<line x1="333.14" y1="729.1" x2="333.14" y2="737.2" stroke="#222" stroke-width="0.85"/>
<line x1="329.34" y1="729.1" x2="336.94" y2="729.1" stroke="#222" stroke-width="0.85"/>
<line x1="329.34" y1="737.2" x2="336.94" y2="737.2" stroke="#222" stroke-width="0.85"/>
<circle cx="333.14" cy="730.1" r="1.25" fill="#000"/>
<circle cx="333.14" cy="736.2" r="1.25" fill="#000"/>
<text x="312.34" y="757.3" font-size="9.9" text-anchor="middle" font-style="italic" fill="#000">C. ihumii</text>
<line x1="312.34" y1="744.5" x2="312.34" y2="747.1" stroke="#262626" stroke-width="1"/>
<rect x="381.52" y="713.39" width="13.8" height="31.11" fill="#A8BDE6"/>
<circle cx="388.42" cy="713.2" r="1.25" fill="#000"/>
<rect x="402.32" y="735.04" width="13.8" height="9.46" fill="#7C5AA0"/>
<circle cx="409.22" cy="734.9" r="1.25" fill="#000"/>
<text x="388.42" y="757.3" font-size="9.9" text-anchor="middle" font-style="italic" fill="#000">C. moniliforme</text>
<line x1="388.42" y1="744.5" x2="388.42" y2="747.1" stroke="#262626" stroke-width="1"/>
<rect x="436.8" y="687.47" width="13.8" height="57.03" fill="#F1CFDA"/>
<line x1="443.7" y1="682.5" x2="443.7" y2="691.7" stroke="#222" stroke-width="0.85"/>
<line x1="439.9" y1="682.5" x2="447.5" y2="682.5" stroke="#222" stroke-width="0.85"/>
<line x1="439.9" y1="691.7" x2="447.5" y2="691.7" stroke="#222" stroke-width="0.85"/>
<circle cx="443.7" cy="681.2" r="1.25" fill="#000"/>
<circle cx="441.7" cy="687" r="1.25" fill="#000"/>
<circle cx="445.7" cy="687.5" r="1.25" fill="#000"/>
<circle cx="441.7" cy="690.8" r="1.25" fill="#000"/>
<circle cx="446.1" cy="690.8" r="1.25" fill="#000"/>
<rect x="457.6" y="716.75" width="13.8" height="27.75" fill="#A8BDE6"/>
<line x1="464.5" y1="697.1" x2="464.5" y2="735.5" stroke="#222" stroke-width="0.85"/>
<line x1="460.7" y1="697.1" x2="468.3" y2="697.1" stroke="#222" stroke-width="0.85"/>
<line x1="460.7" y1="735.5" x2="468.3" y2="735.5" stroke="#222" stroke-width="0.85"/>
<circle cx="464.5" cy="690.8" r="1.25" fill="#000"/>
<circle cx="464.5" cy="712.5" r="1.25" fill="#000"/>
<circle cx="462.2" cy="731.1" r="1.25" fill="#000"/>
<circle cx="466.8" cy="731.1" r="1.25" fill="#000"/>
<rect x="478.4" y="735.04" width="13.8" height="9.46" fill="#7C5AA0"/>
<circle cx="483.3" cy="734.9" r="1.25" fill="#000"/>
<circle cx="487.5" cy="734.9" r="1.25" fill="#000"/>
<text x="464.5" y="757.3" font-size="9.9" text-anchor="middle" font-style="italic" fill="#000">C. neonatale</text>
<line x1="464.5" y1="744.5" x2="464.5" y2="747.1" stroke="#262626" stroke-width="1"/>
<rect x="512.88" y="677.1" width="13.8" height="67.4" fill="#F1CFDA"/>
<line x1="519.78" y1="663.9" x2="519.78" y2="690.4" stroke="#222" stroke-width="0.85"/>
<line x1="515.98" y1="663.9" x2="523.58" y2="663.9" stroke="#222" stroke-width="0.85"/>
<line x1="515.98" y1="690.4" x2="523.58" y2="690.4" stroke="#222" stroke-width="0.85"/>
<circle cx="519.78" cy="664.5" r="1.25" fill="#000"/>
<circle cx="519.78" cy="675" r="1.25" fill="#000"/>
<circle cx="519.78" cy="690.8" r="1.25" fill="#000"/>
<rect x="533.68" y="702.11" width="13.8" height="42.39" fill="#A8BDE6"/>
<line x1="540.58" y1="671.2" x2="540.58" y2="732.4" stroke="#222" stroke-width="0.85"/>
<line x1="536.78" y1="671.2" x2="544.38" y2="671.2" stroke="#222" stroke-width="0.85"/>
<line x1="536.78" y1="732.4" x2="544.38" y2="732.4" stroke="#222" stroke-width="0.85"/>
<circle cx="540.58" cy="651.8" r="1.25" fill="#000"/>
<circle cx="540.58" cy="697.1" r="1.25" fill="#000"/>
<circle cx="540.58" cy="707.7" r="1.25" fill="#000"/>
<circle cx="540.58" cy="721.5" r="1.25" fill="#000"/>
<circle cx="540.58" cy="731.5" r="1.25" fill="#000"/>
<rect x="554.48" y="729.25" width="13.8" height="15.25" fill="#7C5AA0"/>
<line x1="561.38" y1="719.6" x2="561.38" y2="737.8" stroke="#222" stroke-width="0.85"/>
<line x1="557.58" y1="719.6" x2="565.18" y2="719.6" stroke="#222" stroke-width="0.85"/>
<line x1="557.58" y1="737.8" x2="565.18" y2="737.8" stroke="#222" stroke-width="0.85"/>
<circle cx="561.38" cy="718.6" r="1.25" fill="#000"/>
<circle cx="561.38" cy="724.7" r="1.25" fill="#000"/>
<circle cx="561.38" cy="734.3" r="1.25" fill="#000"/>
<circle cx="561.38" cy="737.8" r="1.25" fill="#000"/>
<text x="540.58" y="757.3" font-size="9.9" text-anchor="middle" font-style="italic" fill="#000">C. nigeriense</text>
<line x1="540.58" y1="744.5" x2="540.58" y2="747.1" stroke="#262626" stroke-width="1"/>
<line x1="49.5" y1="622.5" x2="575.3" y2="622.5" stroke="#262626" stroke-width="1.2"/>
<line x1="49.5" y1="621.9" x2="49.5" y2="745.1" stroke="#262626" stroke-width="1.2"/>
<line x1="575.3" y1="621.9" x2="575.3" y2="745.1" stroke="#262626" stroke-width="1.2"/>
<line x1="49.5" y1="744.5" x2="575.3" y2="744.5" stroke="#262626" stroke-width="1.3"/>
<line x1="122.4" y1="622.5" x2="122.4" y2="744.5" stroke="#262626" stroke-width="1.2"/>
<line x1="198.45" y1="622.5" x2="198.45" y2="744.5" stroke="#262626" stroke-width="1.2"/>
<line x1="274.5" y1="622.5" x2="274.5" y2="744.5" stroke="#262626" stroke-width="1.2"/>
<line x1="350.55" y1="622.5" x2="350.55" y2="744.5" stroke="#262626" stroke-width="1.2"/>
<line x1="426.6" y1="622.5" x2="426.6" y2="744.5" stroke="#262626" stroke-width="1.2"/>
<line x1="502.65" y1="622.5" x2="502.65" y2="744.5" stroke="#262626" stroke-width="1.2"/>
<line x1="47.4" y1="744.5" x2="49.5" y2="744.5" stroke="#262626" stroke-width="1.1"/>
<text x="46.4" y="748.1" font-size="10.3" text-anchor="end" fill="#000">0</text>
<line x1="47.4" y1="714" x2="49.5" y2="714" stroke="#262626" stroke-width="1.1"/>
<text x="46.4" y="717.6" font-size="10.3" text-anchor="end" fill="#000">10</text>
<line x1="47.4" y1="683.5" x2="49.5" y2="683.5" stroke="#262626" stroke-width="1.1"/>
<text x="46.4" y="687.1" font-size="10.3" text-anchor="end" fill="#000">20</text>
<line x1="47.4" y1="653" x2="49.5" y2="653" stroke="#262626" stroke-width="1.1"/>
<text x="46.4" y="656.6" font-size="10.3" text-anchor="end" fill="#000">30</text>
<line x1="47.4" y1="622.5" x2="49.5" y2="622.5" stroke="#262626" stroke-width="1.1"/>
<text x="46.4" y="626.1" font-size="10.3" text-anchor="end" fill="#000">40</text>
<text transform="translate(31.9,680.6) rotate(-90) scale(0.9434,1)" font-size="11.5" text-anchor="middle" fill="#000">(U/mL)</text>
<rect x="587.3" y="476.7" width="10.8" height="10.7" fill="#F1CFDA"/>
<text transform="translate(600.8,485.4) scale(0.9346,1)" font-size="9.63" fill="#000">Xylanase</text>
<rect x="587.9" y="498.8" width="10.8" height="10.7" fill="#A8BDE6"/>
<text transform="translate(601.5,507.5) scale(0.9346,1)" font-size="9.63" fill="#000">β-glucosidase</text>
<rect x="587.9" y="520.9" width="10.8" height="10.7" fill="#8A66B0"/>
<text transform="translate(601.5,529.6) scale(0.9346,1)" font-size="9.63" fill="#000">Manganese peroxidase</text>
</svg>
</body></html>
